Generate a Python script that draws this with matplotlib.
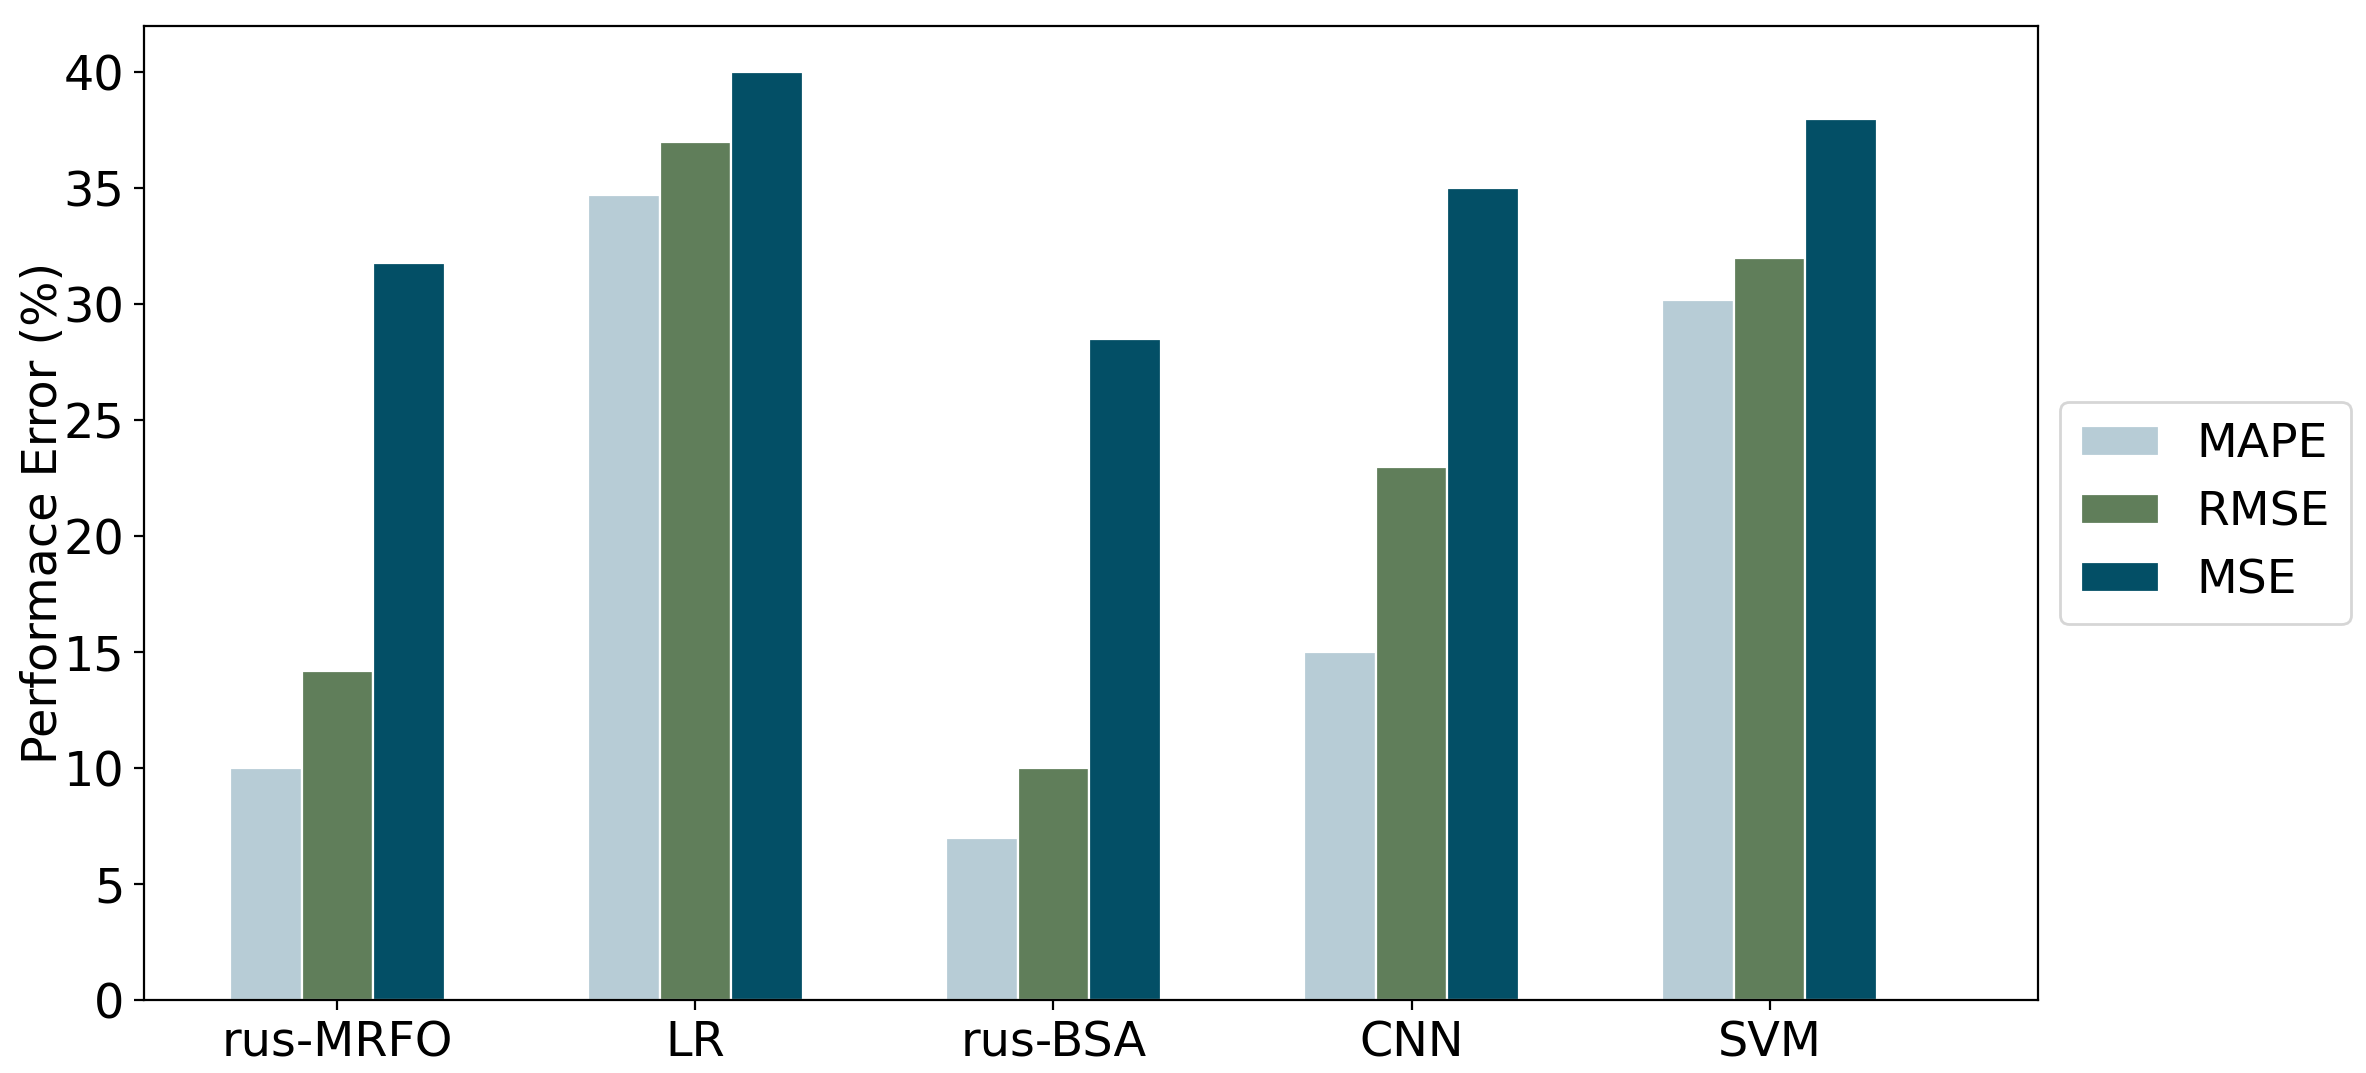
import numpy as np
import matplotlib
matplotlib.use('Agg')
import matplotlib.pyplot as plt

# models on the x axis
models = ['rus-MRFO', 'LR', 'rus-BSA', 'CNN', 'SVM']

# error values (%)
mape = [10.0, 34.7, 7.0, 15.0, 30.2]
rmse = [14.2, 37.0, 10.0, 23.0, 32.0]
mse = [31.8, 40.0, 28.5, 35.0, 38.0]

series_names = ['MAPE', 'RMSE', 'MSE']
colors = ['#b7ccd6', '#607e5a', '#034f66']

plt.rcParams['font.family'] = ['DejaVu Sans']
plt.rcParams['font.size'] = 17.2

fig = plt.figure(figsize=(11.83, 5.365), dpi=200)
ax = fig.add_axes([0.0609, 0.068, 0.8005, 0.9078])

x = np.arange(len(models))
w = 0.2
for i, (vals, name, c) in enumerate(zip([mape, rmse, mse], series_names, colors)):
    ax.bar(x + (i - 1) * w, vals, w, color=c, edgecolor='white', linewidth=0.8, label=name)

ax.set_xticks(x)
ax.set_xticklabels(models)
ax.set_yticks(range(0, 41, 5))
ax.set_xlim(-0.54, 4.75)
ax.set_ylim(0, 42)
ax.set_ylabel('Performace Error (%)', labelpad=-1)

ax.legend(loc='center left', bbox_to_anchor=(1.0116, 0.5), borderaxespad=0,
          fontsize=17, handlelength=1.65, handleheight=0.6, labelspacing=0.49,
          borderpad=0.44, handletextpad=0.8)

fig.savefig('out.png', dpi=200)
